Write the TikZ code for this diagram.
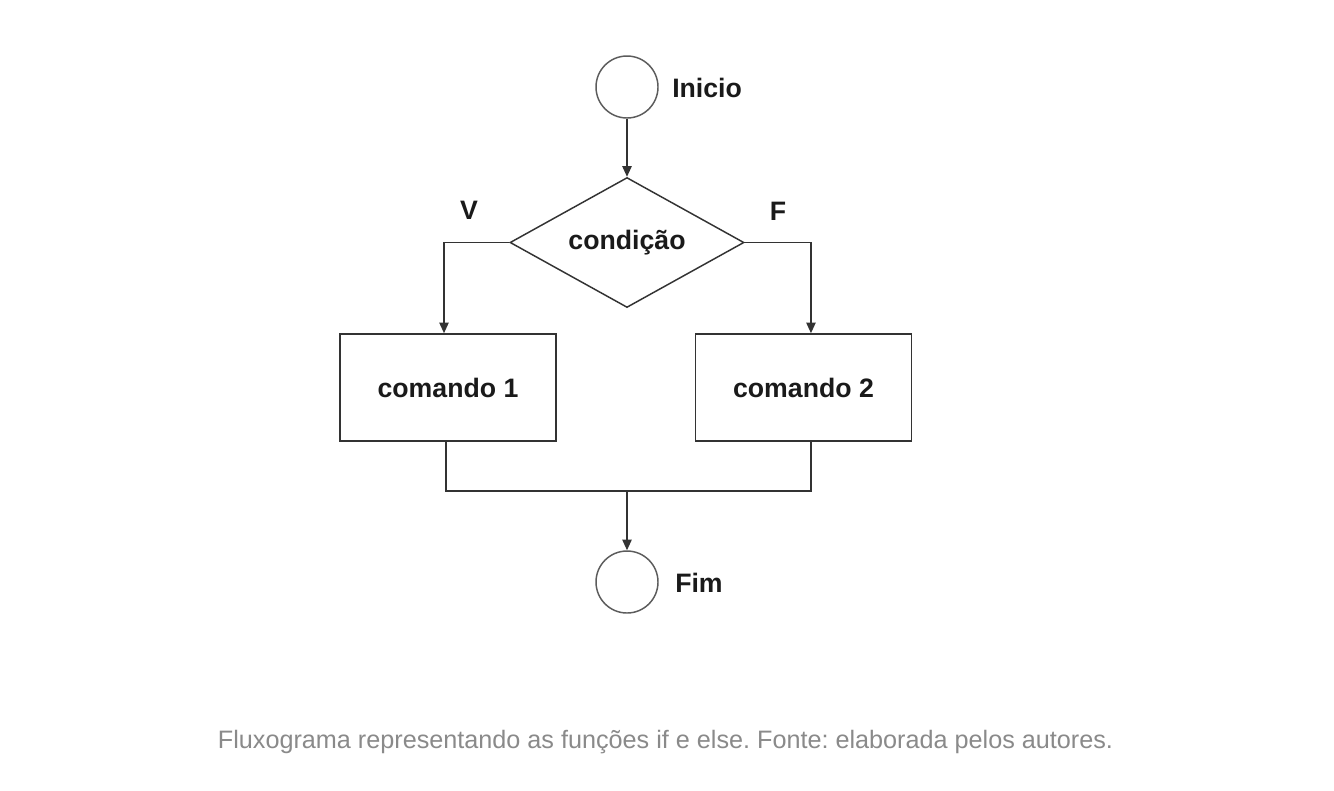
\documentclass[tikz,border=0pt]{standalone}
\usepackage{fontspec}
\setmainfont{Liberation Sans}
\usetikzlibrary{shapes.geometric,arrows.meta}
\definecolor{linec}{HTML}{333333}
\definecolor{capc}{HTML}{8A8A8A}
\definecolor{txtc}{HTML}{1A1A1A}
\begin{document}
\frenchspacing
\begin{tikzpicture}[x=0.75pt,y=-0.75pt,
  conn/.style={draw=linec,line width=1.2pt},
  arr/.style={conn,-{Triangle[length=8pt,width=7pt]}},
  term/.style={circle,draw=linec!80,line width=1.1pt,minimum size=46.5pt,inner sep=0pt},
  cmdbox/.style={rectangle,draw=linec,line width=1.2pt,minimum width=162pt,minimum height=80.25pt,inner sep=0pt,font=\fontsize{20}{24}\selectfont\bfseries,text=txtc},
  decision/.style={diamond,draw=linec,line width=1.1pt,minimum width=175.5pt,minimum height=97.5pt,inner sep=0pt,aspect=1.8,font=\fontsize{20}{24}\selectfont\bfseries,text=txtc},
  lab/.style={font=\fontsize{20}{24}\selectfont\bfseries,text=txtc,inner sep=0pt},
  captext/.style={font=\fontsize{18.9}{22}\selectfont,text=capc,inner sep=0pt}]
\useasboundingbox (0,0) rectangle (1334,790);
\fill[white] (0,0) rectangle (1334,790);
\node[term] (ini) at (627,87) {};
\node[lab,anchor=west] (inilab) at (672,88) {Inicio};
\node[decision] (dia) at (627,242.5) {condição};
\node[lab] (vlab) at (469,210) {V};
\node[lab] (flab) at (778,211) {F};
\node[cmdbox] (c1) at (448,387.5) {comando 1};
\node[cmdbox] (c2) at (803.5,387.5) {comando 2};
\node[term] (fim) at (627,582) {};
\node[lab,anchor=west] (fimlab) at (675,583) {Fim};
\coordinate (m) at (627,491);
\node[captext] (caption) at (665.5,742) {Fluxograma representando as funções if e else. Fonte: elaborada pelos autores.};
\draw[arr] (ini) -- (dia.north);
\draw[arr] (dia.west) -| ([xshift=-3pt]c1.north);
\draw[arr] (dia.east) -| ([xshift=5.6pt]c2.north);
\draw[conn] ([xshift=-1.5pt]c1.south) |- (m) -| ([xshift=5.6pt]c2.south);
\draw[arr] (m) -- (fim);
\end{tikzpicture}
\end{document}
